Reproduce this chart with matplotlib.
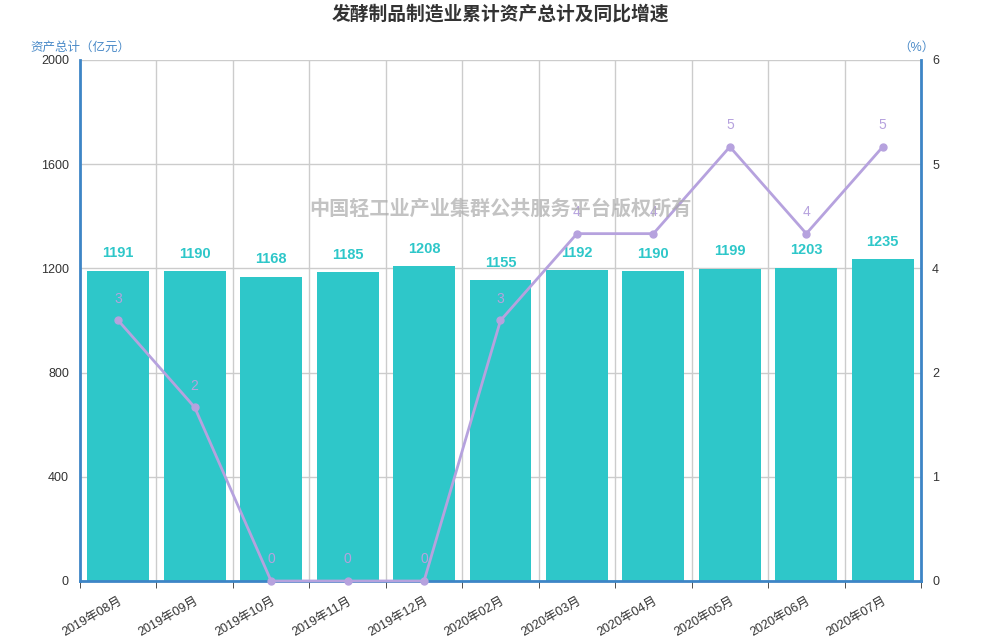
import numpy as np
import matplotlib.pyplot as plt
from matplotlib.ticker import FixedLocator, FixedFormatter

plt.rcParams['font.family'] = ['Liberation Sans', 'Noto Sans CJK SC', 'DejaVu Sans']

months = ['2019年08月', '2019年09月', '2019年10月', '2019年11月', '2019年12月',
          '2020年02月', '2020年03月', '2020年04月', '2020年05月', '2020年06月', '2020年07月']
assets = [1191, 1190, 1168, 1185, 1208, 1155, 1192, 1190, 1199, 1203, 1235]
growth = [3, 2, 0, 0, 0, 3, 4, 4, 5, 4, 5]

left_ticks = [0, 400, 800, 1200, 1600, 2000]
right_ticks = [0, 1.2, 2.4, 3.6, 4.8, 6]
right_labels = ['0', '1', '2', '4', '5', '6']

bar_c = '#2ec7c9'
line_c = '#b6a2de'
axis_c = '#3d85c6'
grid_c = '#cccccc'
txt_c = '#333333'

fig = plt.figure(figsize=(10, 6.4), dpi=100)
ax = fig.add_axes([0.08, 0.0922, 0.841, 0.8141])
x = np.arange(len(months))

ax.bar(x, assets, width=0.81, color=bar_c, zorder=2)
for xi, v in zip(x, assets):
    ax.text(xi, v + 40, str(v), ha='center', va='bottom', color=bar_c,
            fontsize=10.5, fontweight='bold', zorder=5)

ax.set_xlim(-0.5, len(months) - 0.5)
ax.set_ylim(0, 2000)
ax.yaxis.set_major_locator(FixedLocator(left_ticks))
ax.set_xticks(x)
ax.set_xticklabels(months, rotation=30, ha='right', rotation_mode='anchor',
                   fontsize=9, color=txt_c)
ax.set_xticks(np.arange(-0.5, len(months)), minor=True)
ax.tick_params(axis='x', which='major', length=0, pad=10)
ax.tick_params(axis='x', which='minor', length=5, color=txt_c, direction='out')
ax.tick_params(axis='y', length=0, labelsize=9, labelcolor=txt_c, pad=8)
ax.grid(True, axis='y', color=grid_c, linewidth=1, zorder=0)
ax.grid(True, axis='x', which='minor', color=grid_c, linewidth=1, zorder=0)
ax.set_axisbelow(True)
for s in ['left', 'right', 'bottom']:
    ax.spines[s].set_color(axis_c)
    ax.spines[s].set_linewidth(2)
ax.spines['top'].set_visible(False)

ax2 = ax.twinx()
ax2.set_ylim(0, 6)
ax2.yaxis.set_major_locator(FixedLocator(right_ticks))
ax2.yaxis.set_major_formatter(FixedFormatter(right_labels))
ax2.tick_params(axis='y', length=0, labelsize=9, labelcolor=txt_c, pad=8)
for s in ax2.spines.values():
    s.set_visible(False)
ax2.plot(x, growth, color=line_c, linewidth=2, marker='o', markersize=5,
         zorder=4, clip_on=False)
for xi, v in zip(x, growth):
    ax2.text(xi, v + 0.17, str(v), ha='center', va='bottom', color=line_c,
             fontsize=10, zorder=5)

fig.text(0.5, 0.978, '发酵制品制造业累计资产总计及同比增速', ha='center', va='center',
         fontsize=13.5, fontweight='bold', color=txt_c)
fig.text(0.03, 0.926, '资产总计（亿元）', ha='left', va='center', fontsize=9, color='#4a8ac8')
fig.text(0.935, 0.926, '（%）', ha='right', va='center', fontsize=9, color='#4a8ac8')
fig.text(0.5, 0.673, '中国轻工业产业集群公共服务平台版权所有', ha='center', va='center',
         fontsize=14.5, fontweight='bold', color='#aaaaaa', alpha=0.7, zorder=10)

fig.savefig('out.png', dpi=100)
